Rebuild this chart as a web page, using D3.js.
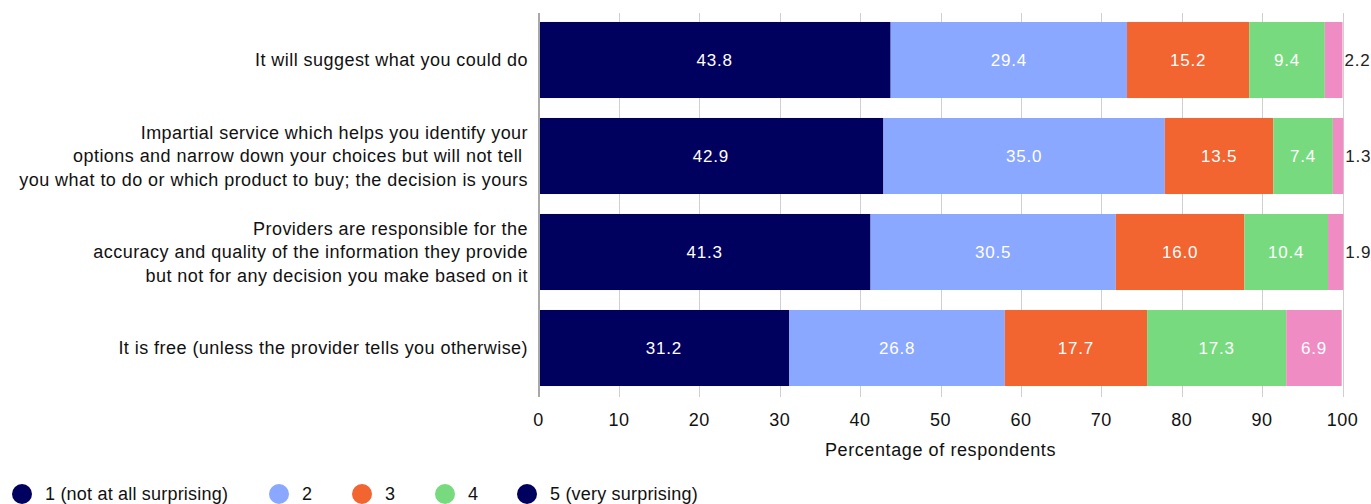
<!DOCTYPE html>
<html>
<head>
<meta charset="utf-8">
<script src="https://cdn.jsdelivr.net/npm/d3@7"></script>
<style>
  html, body { margin: 0; padding: 0; background: #fff; }
  svg { display: block; font-family: "Liberation Sans", Arial, Helvetica, sans-serif; letter-spacing: 0.5px; }
</style>
</head>
<body>
<svg id="chart" width="1371" height="504"></svg>
<script>
// Statements rated by respondents (each entry is a list of wrapped lines)
const categories = [
  ["It will suggest what you could do"],
  ["Impartial service which helps you identify your",
   "options and narrow down your choices but will not tell ",
   "you what to do or which product to buy; the decision is yours"],
  ["Providers are responsible for the",
   "accuracy and quality of the information they provide",
   "but not for any decision you make based on it"],
  ["It is free (unless the provider tells you otherwise)"]
];
const seriesNames = ["1 (not at all surprising)", "2", "3", "4", "5 (very surprising)"];
const s1 = [43.8, 42.9, 41.3, 31.2];
const s2 = [29.4, 35.0, 30.5, 26.8];
const s3 = [15.2, 13.5, 16.0, 17.7];
const s4 = [9.4, 7.4, 10.4, 17.3];
const s5 = [2.2, 1.3, 1.9, 6.9];
const xTicks = [0, 10, 20, 30, 40, 50, 60, 70, 80, 90, 100];
const barColors = ["#00005f", "#8aa8ff", "#f26430", "#78da7e", "#f08cc4"];
const legendColors = ["#00005f", "#8aa8ff", "#f26430", "#78da7e", "#00005f"];

const series = [s1, s2, s3, s4, s5];
const rows = categories.map((c, i) => {
  const r = { key: i };
  series.forEach((s, j) => r["s" + j] = s[i]);
  return r;
});
const keys = series.map((_, j) => "s" + j);
const stacked = d3.stack().keys(keys)(rows);

const svg = d3.select("#chart");
const x = d3.scaleLinear().domain([0, 100]).range([538.5, 1342.5]);
const y = d3.scaleBand().domain(d3.range(categories.length))
  .range([12, 396]).paddingInner(0.208).paddingOuter(0.104);

// vertical gridlines (behind bars) with tick stubs below the plot
svg.append("g").selectAll("line").data(xTicks.slice(1)).join("line")
  .attr("x1", d => Math.round(x(d)) + 0.5).attr("x2", d => Math.round(x(d)) + 0.5)
  .attr("y1", 13).attr("y2", 397)
  .attr("stroke", "#d0d0d0").attr("stroke-width", 1);

// bars
const layer = svg.append("g").selectAll("g").data(stacked).join("g")
  .attr("fill", (d, i) => barColors[i]);
layer.selectAll("rect").data(d => d).join("rect")
  .attr("x", d => x(d[0]))
  .attr("width", d => x(d[1]) - x(d[0]))
  .attr("y", (d, i) => y(i))
  .attr("height", y.bandwidth());

// value labels: inside when there is room, otherwise just past the bar end
stacked.forEach((lay, j) => {
  lay.forEach((d, i) => {
    const v = series[j][i];
    const w = x(d[1]) - x(d[0]);
    const inside = w > 30;
    svg.append("text")
      .attr("x", inside ? (x(d[0]) + x(d[1])) / 2 : x(d[1]) + 2)
      .attr("y", y(i) + y.bandwidth() / 2)
      .attr("dy", "0.35em")
      .attr("text-anchor", inside ? "middle" : "start")
      .attr("font-size", 17)
      .style("letter-spacing", "0.8px")
      .attr("fill", inside ? "#fff" : "#222")
      .text(v.toFixed(1));
  });
});

// left axis line
svg.append("line").attr("x1", 539).attr("x2", 539).attr("y1", 13).attr("y2", 397)
  .attr("stroke", "#a8a8a8").attr("stroke-width", 2);

// x tick labels
svg.append("g").selectAll("text").data(xTicks).join("text")
  .attr("x", d => x(d)).attr("y", 426)
  .attr("text-anchor", "middle").attr("font-size", 18).attr("fill", "#111")
  .text(d => d);

svg.append("text").attr("x", x(50)).attr("y", 456)
  .attr("text-anchor", "middle").attr("font-size", 18).attr("fill", "#111")
  .style("letter-spacing", "0.6px")
  .text("Percentage of respondents");

// category labels
const lineH = 23.5;
categories.forEach((lines, i) => {
  const cy = y(i) + y.bandwidth() / 2;
  const t = svg.append("text").attr("text-anchor", "end")
    .attr("font-size", 18).attr("fill", "#111")
    .style("letter-spacing", "0.45px");
  lines.forEach((ln, k) => {
    t.append("tspan").attr("x", 528)
      .attr("y", cy + (k - (lines.length - 1) / 2) * lineH)
      .attr("dy", "0.35em")
      .attr("xml:space", "preserve")
      .text(ln);
  });
});

// legend
const legendX = [22, 279, 362, 445, 527];
const lg = svg.append("g").selectAll("g").data(seriesNames).join("g")
  .attr("transform", (d, i) => `translate(${legendX[i]},494)`);
lg.append("circle").attr("r", 10).attr("fill", (d, i) => legendColors[i]);
lg.append("text").attr("x", 23).attr("dy", "0.35em")
  .attr("font-size", 18).attr("fill", "#111")
  .style("letter-spacing", "0.2px").text(d => d);
</script>
</body>
</html>
